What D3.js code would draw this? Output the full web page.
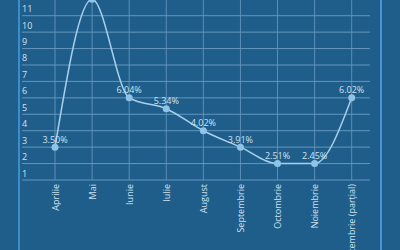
<!DOCTYPE html>
<html>
<head>
<meta charset="utf-8">
<script src="https://cdn.jsdelivr.net/npm/d3@7"></script>
<style>
  html, body { margin: 0; padding: 0; background: #1f5e8a; overflow: hidden; }
  svg { display: block; font-family: "Open Sans", sans-serif; }
</style>
</head>
<body>
<div class="chart"></div>
<script>
// size
var width = 400;
var height = 250;

// data
var months = ["Aprilie", "Mai", "Iunie", "Iulie", "August", "Septembrie", "Octombrie", "Noiembrie", "Decembrie (parțial)"];
var values = [3, 12, 6, 5.34, 4, 3, 2, 2, 6];
var pointLabels = ["3.50%", null, "6.04%", "5.34%", "4.02%", "3.91%", "2.51%", "2.45%", "6.02%"];
var yTicks = [1, 2, 3, 4, 5, 6, 7, 8, 9, 10, 11];

var textColor = "#cfe2f1";

const svg = d3.select(".chart")
              .append("svg")
              .attr("width", width)
              .attr("height", height);

const xScale = d3.scalePoint()
                 .domain(months)
                 .range([55, 351.7]);
const yScale = d3.scaleLinear()
                 .domain([1, 11])
                 .range([180, 15.7]);

// frame lines left / right
svg.append("rect")
   .attr("x", 18).attr("y", 0)
   .attr("width", 2).attr("height", height)
   .attr("fill", "#3b8dcc");
svg.append("rect")
   .attr("x", 380).attr("y", 0)
   .attr("width", 2).attr("height", height)
   .attr("fill", "#4796d3");

// vertical grid
svg.append("g")
   .selectAll("line")
   .data(months)
   .enter()
   .append("line")
   .attr("x1", d => xScale(d))
   .attr("x2", d => xScale(d))
   .attr("y1", 0)
   .attr("y2", yScale(1))
   .attr("stroke", "#5a8fb8")
   .attr("stroke-width", 1);

// horizontal grid + y labels
var yAxis = svg.append("g").attr("id", "y-axis");
yAxis.selectAll("line")
     .data(yTicks)
     .enter()
     .append("line")
     .attr("x1", 22)
     .attr("x2", 370)
     .attr("y1", d => yScale(d))
     .attr("y2", d => yScale(d))
     .attr("stroke", "#6496bd")
     .attr("stroke-width", 1);
yAxis.selectAll("text")
     .data(yTicks)
     .enter()
     .append("text")
     .attr("x", 22)
     .attr("y", d => yScale(d) - 3.5)
     .attr("fill", textColor)
     .style("font-size", "9px")
     .text(d => d);

// x labels
svg.append("g")
   .attr("id", "x-axis")
   .selectAll("text")
   .data(months)
   .enter()
   .append("text")
   .attr("transform", d => "translate(" + (xScale(d) + 3.5) + "," + 184 + ") rotate(-90)")
   .attr("text-anchor", "end")
   .attr("fill", textColor)
   .style("font-size", "9px")
   .text(d => d);

// line
var line = d3.line()
             .x((d, i) => xScale(months[i]))
             .y(d => yScale(d))
             .curve(d3.curveMonotoneX);

svg.append("path")
   .datum(values)
   .attr("d", line)
   .attr("fill", "none")
   .attr("stroke", "#a6d0ec")
   .attr("stroke-width", 1.5);

// points
svg.append("g")
   .selectAll("circle")
   .data(values)
   .enter()
   .append("circle")
   .attr("cx", (d, i) => xScale(months[i]))
   .attr("cy", d => yScale(d))
   .attr("r", 3.5)
   .attr("fill", "#8fc4e8");

// value labels
svg.append("g")
   .selectAll("text")
   .data(values)
   .enter()
   .append("text")
   .attr("x", (d, i) => xScale(months[i]))
   .attr("y", d => yScale(d) - 4.5)
   .attr("text-anchor", "middle")
   .attr("fill", textColor)
   .style("font-size", "9px")
   .text((d, i) => pointLabels[i]);
</script>
</body>
</html>
